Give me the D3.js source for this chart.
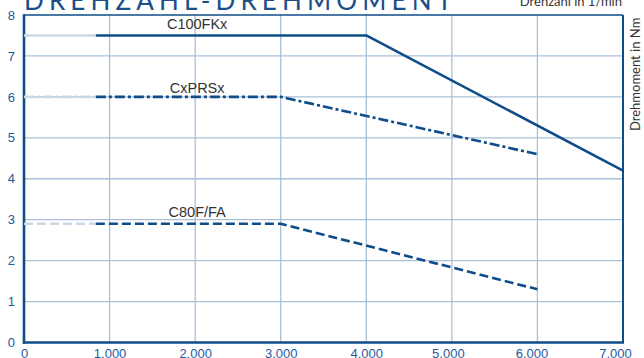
<!DOCTYPE html>
<html><head><meta charset="utf-8">
<script src="https://cdn.jsdelivr.net/npm/d3@7"></script>
<style>body{margin:0;background:#fff}svg{display:block}</style>
</head><body>
<script>
// ---- data ----
const xTicks = [0,1000,2000,3000,4000,5000,6000,7000];
const yTicks = [0,1,2,3,4,5,6,7,8];
const seriesNames = ["C100FKx","CxPRSx","C80F/FA"];
const c100Speed  = [0, 840, 4000, 7000];
const c100Torque = [7.5, 7.5, 7.5, 4.2];
const cxprsSpeed  = [0, 840, 3000, 6000];
const cxprsTorque = [6.0, 6.0, 6.0, 4.6];
const c80Speed  = [0, 840, 3000, 6000];
const c80Torque = [2.9, 2.9, 2.9, 1.3];
const labelSpeed = [2000, 2000, 2000];
const titleText = "DREHZAHL-DREHMOMENT";
const xTitle = "Drehzahl in 1/min";
const yTitle = "Drehmoment in Nm";

// ---- layout ----
const W=644,H=358;
const m={left:24,right:21,top:15,bottom:15.5};
const svg=d3.select("body").append("svg").attr("width",W).attr("height",H);
const x=d3.scaleLinear().domain([0,7000]).range([m.left,W-m.right]);
const y=d3.scaleLinear().domain([0,8]).range([H-m.bottom,m.top]);
const dark="#0f4c8a", light="#c9d8e7", grid="#a9c0d7", tickCol="#1f5a9c";
const fmt=d=>d3.format(",")(d).replace(/,/g,".");

// grid
svg.append("g").selectAll("line").data(xTicks.slice(1,-1)).join("line")
  .attr("x1",d=>x(d)).attr("x2",d=>x(d)).attr("y1",y(8)).attr("y2",y(0))
  .attr("stroke",grid).attr("stroke-width",1.3);
svg.append("g").selectAll("line").data(yTicks.slice(1,-1)).join("line")
  .attr("x1",x(0)).attr("x2",x(7000)).attr("y1",d=>y(d)).attr("y2",d=>y(d))
  .attr("stroke",grid).attr("stroke-width",1.3);

// axes labels via d3 axes
const xa=svg.append("g").attr("transform",`translate(0,${y(0)})`)
  .call(d3.axisBottom(x).tickValues(xTicks).tickFormat(fmt).tickSize(0).tickPadding(6));
xa.select(".domain").remove();
xa.selectAll("text").attr("fill",tickCol).attr("font-family","Liberation Sans, Arial, sans-serif").attr("font-size",13);
xa.selectAll("text").filter(d=>d===7000).attr("dx",-8);
xa.selectAll("text").filter(d=>d===6000).attr("dx",-6);
xa.selectAll("text").filter(d=>d===5000).attr("dx",-4);
const ya=svg.append("g").attr("transform",`translate(${x(0)},0)`)
  .call(d3.axisLeft(y).tickValues(yTicks).tickSize(0).tickPadding(9));
ya.select(".domain").remove();
ya.selectAll("text").attr("fill",tickCol).attr("font-family","Liberation Sans, Arial, sans-serif").attr("font-size",13);

// frame
svg.append("line").attr("x1",x(0)).attr("x2",x(7000)).attr("y1",y(8)).attr("y2",y(8)).attr("stroke",dark).attr("stroke-width",1.6);
svg.append("line").attr("x1",x(7000)).attr("x2",x(7000)).attr("y1",y(8)).attr("y2",y(0)).attr("stroke",dark).attr("stroke-width",2);
svg.append("line").attr("x1",x(0)).attr("x2",x(0)).attr("y1",y(8)-0.8).attr("y2",y(0)+1.2).attr("stroke",dark).attr("stroke-width",2.6);
svg.append("line").attr("x1",x(0)-1.2).attr("x2",x(7000)+1).attr("y1",y(0)).attr("y2",y(0)).attr("stroke",dark).attr("stroke-width",2.6);

// series
const series=[
  {sp:c100Speed,tq:c100Torque,dash:null},
  {sp:cxprsSpeed,tq:cxprsTorque,dash:"10,3,3,3"},
  {sp:c80Speed,tq:c80Torque,dash:"9,4"}
];
const line=d3.line().x(d=>x(d[0])).y(d=>y(d[1]));
series.forEach((s,i)=>{
  const pts=s.sp.map((v,j)=>[v,s.tq[j]]);
  svg.append("path").attr("d",line(pts.slice(0,2))).attr("fill","none")
    .attr("stroke",light).attr("stroke-width",2.6).attr("stroke-dasharray",s.dash);
  svg.append("path").attr("d",line(pts.slice(1))).attr("fill","none")
    .attr("stroke",dark).attr("stroke-width",2.6).attr("stroke-dasharray",s.dash)
    .attr("stroke-linejoin","round");
  const off=[6,3.5,7][i];
  svg.append("text").attr("x",x(labelSpeed[i])+2).attr("y",y(s.tq[0])-off)
    .attr("text-anchor","middle").attr("fill","#333")
    .attr("font-family","Liberation Sans, Arial, sans-serif").attr("font-size",14.5)
    .text(seriesNames[i]);
});

// titles
svg.append("text").attr("x",24).attr("y",10).attr("fill","#1b4f8a")
  .attr("font-family","Lato, sans-serif").attr("font-size",26)
  .attr("textLength",428).attr("lengthAdjust","spacing").text(titleText);
svg.append("text").attr("x",622).attr("y",6).attr("text-anchor","end").attr("fill","#333")
  .attr("font-family","Lato, sans-serif").attr("font-size",13).text(xTitle);
svg.append("text").attr("transform","translate(640,131) rotate(-90)").attr("fill","#333")
  .attr("font-family","Lato, sans-serif").attr("font-size",13).text(yTitle);
</script>
</body></html>
